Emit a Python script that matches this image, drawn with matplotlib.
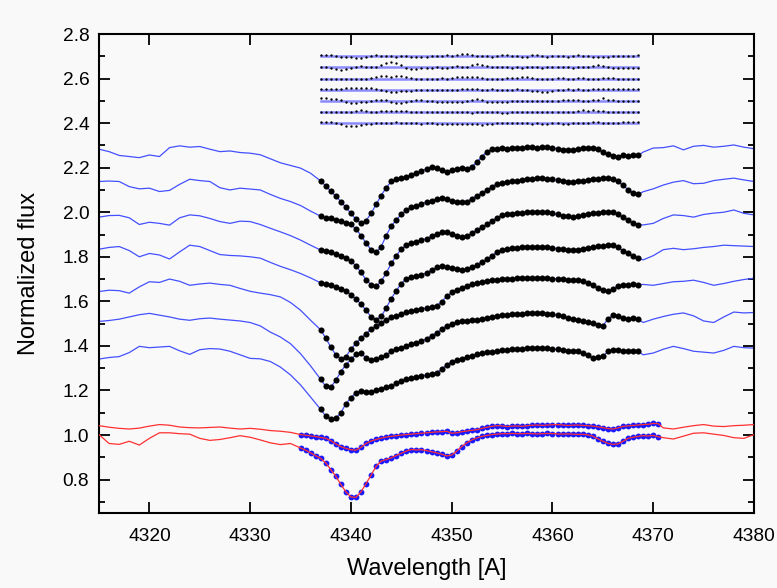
import numpy as np
import matplotlib
matplotlib.use("Agg")
import matplotlib.pyplot as plt
from matplotlib.ticker import MultipleLocator

plt.rcParams['font.family'] = ['Liberation Sans', 'DejaVu Sans']

# ---------------- data ----------------
wl_left = np.arange(4315, 4337, 1.0)        # 22 points, blue wings left
wl_dots = np.arange(4337.0, 4368.51, 0.5)   # 64 points, black dots
wl_right = np.arange(4369, 4381, 1.0)       # 12 points, blue wings right

spec_left = [
    [2.283, 2.272, 2.255, 2.250, 2.245, 2.257, 2.250, 2.290, 2.298, 2.292, 2.295, 2.283, 2.272, 2.275, 2.268, 2.265, 2.258, 2.240, 2.222, 2.210, 2.198, 2.175],
    [2.138, 2.140, 2.138, 2.115, 2.105, 2.108, 2.093, 2.098, 2.125, 2.148, 2.142, 2.138, 2.110, 2.100, 2.108, 2.104, 2.100, 2.080, 2.062, 2.048, 2.030, 2.005],
    [1.978, 1.985, 1.986, 1.975, 1.945, 1.955, 1.950, 1.942, 1.975, 1.988, 1.984, 1.972, 1.958, 1.950, 1.960, 1.958, 1.945, 1.928, 1.912, 1.895, 1.875, 1.852],
    [1.834, 1.842, 1.846, 1.828, 1.800, 1.815, 1.808, 1.790, 1.822, 1.852, 1.846, 1.828, 1.810, 1.806, 1.804, 1.800, 1.794, 1.775, 1.757, 1.742, 1.725, 1.705],
    [1.644, 1.650, 1.648, 1.637, 1.665, 1.688, 1.685, 1.700, 1.690, 1.672, 1.678, 1.682, 1.676, 1.672, 1.658, 1.645, 1.637, 1.630, 1.620, 1.595, 1.560, 1.515],
    [1.510, 1.514, 1.520, 1.530, 1.540, 1.546, 1.538, 1.530, 1.520, 1.515, 1.522, 1.525, 1.520, 1.516, 1.512, 1.505, 1.490, 1.462, 1.440, 1.410, 1.365, 1.310],
    [1.341, 1.348, 1.352, 1.370, 1.398, 1.392, 1.395, 1.398, 1.378, 1.362, 1.383, 1.388, 1.386, 1.376, 1.360, 1.344, 1.342, 1.330, 1.305, 1.270, 1.225, 1.170],
]

spec_dots = [
    [2.140, 2.118, 2.095, 2.072, 2.048, 2.022, 1.995, 1.968, 1.950, 1.962, 1.995, 2.035, 2.075, 2.110, 2.138, 2.150,
     2.152, 2.160, 2.165, 2.175, 2.185, 2.195, 2.205, 2.200, 2.188, 2.182, 2.188, 2.195, 2.198, 2.196, 2.205, 2.225,
     2.250, 2.272, 2.282, 2.285, 2.288, 2.286, 2.289, 2.290, 2.288, 2.291, 2.292, 2.290, 2.292, 2.291, 2.289, 2.285,
     2.280, 2.278, 2.279, 2.283, 2.288, 2.290, 2.288, 2.282, 2.272, 2.262, 2.252, 2.250, 2.255, 2.253, 2.256, 2.255],
    [1.982, 1.975, 1.972, 1.966, 1.960, 1.952, 1.945, 1.925, 1.895, 1.862, 1.832, 1.820, 1.845, 1.895, 1.938, 1.965,
     1.990, 2.010, 2.022, 2.030, 2.038, 2.045, 2.052, 2.058, 2.063, 2.060, 2.052, 2.046, 2.045, 2.048, 2.060, 2.075,
     2.085, 2.100, 2.115, 2.127, 2.132, 2.136, 2.140, 2.142, 2.145, 2.147, 2.150, 2.152, 2.153, 2.150, 2.148, 2.145,
     2.140, 2.137, 2.136, 2.138, 2.142, 2.145, 2.148, 2.150, 2.152, 2.153, 2.148, 2.138, 2.120, 2.102, 2.088, 2.080],
    [1.830, 1.826, 1.820, 1.812, 1.804, 1.795, 1.780, 1.760, 1.730, 1.697, 1.675, 1.667, 1.690, 1.727, 1.770, 1.805,
     1.835, 1.853, 1.862, 1.868, 1.874, 1.882, 1.892, 1.902, 1.912, 1.910, 1.902, 1.895, 1.890, 1.892, 1.905, 1.920,
     1.933, 1.945, 1.960, 1.975, 1.987, 1.990, 1.993, 1.996, 1.998, 2.000, 2.002, 2.003, 2.003, 2.000, 1.995, 1.990,
     1.985, 1.982, 1.980, 1.982, 1.988, 1.993, 1.996, 1.998, 2.000, 2.002, 2.000, 1.990, 1.978, 1.965, 1.952, 1.944],
    [1.683, 1.678, 1.672, 1.665, 1.657, 1.647, 1.630, 1.610, 1.588, 1.560, 1.530, 1.518, 1.532, 1.570, 1.612, 1.648,
     1.680, 1.702, 1.710, 1.714, 1.718, 1.728, 1.740, 1.752, 1.757, 1.755, 1.750, 1.745, 1.742, 1.743, 1.752, 1.765,
     1.776, 1.788, 1.805, 1.822, 1.832, 1.836, 1.838, 1.840, 1.842, 1.844, 1.845, 1.846, 1.845, 1.843, 1.840, 1.837,
     1.834, 1.831, 1.830, 1.832, 1.836, 1.840, 1.844, 1.847, 1.850, 1.853, 1.852, 1.842, 1.828, 1.815, 1.803, 1.795],
    [1.472, 1.435, 1.395, 1.360, 1.342, 1.352, 1.385, 1.412, 1.435, 1.455, 1.475, 1.490, 1.505, 1.518, 1.528, 1.535,
     1.542, 1.550, 1.556, 1.560, 1.565, 1.570, 1.575, 1.580, 1.598, 1.622, 1.640, 1.652, 1.662, 1.670, 1.676, 1.682,
     1.687, 1.692, 1.695, 1.698, 1.700, 1.701, 1.702, 1.704, 1.705, 1.704, 1.705, 1.706, 1.704, 1.703, 1.702, 1.700,
     1.699, 1.698, 1.697, 1.695, 1.690, 1.682, 1.672, 1.660, 1.650, 1.645, 1.655, 1.670, 1.675, 1.672, 1.676, 1.674],
    [1.250, 1.218, 1.215, 1.245, 1.285, 1.315, 1.340, 1.362, 1.368, 1.345, 1.338, 1.342, 1.348, 1.360, 1.375, 1.385,
     1.392, 1.400, 1.408, 1.414, 1.420, 1.432, 1.445, 1.458, 1.475, 1.490, 1.500, 1.506, 1.510, 1.513, 1.516, 1.518,
     1.522, 1.526, 1.530, 1.534, 1.537, 1.539, 1.541, 1.543, 1.545, 1.546, 1.547, 1.548, 1.547, 1.545, 1.542, 1.538,
     1.532, 1.526, 1.520, 1.516, 1.512, 1.507, 1.503, 1.496, 1.490, 1.520, 1.538, 1.532, 1.525, 1.522, 1.524, 1.520],
    [1.115, 1.085, 1.070, 1.075, 1.100, 1.140, 1.168, 1.190, 1.198, 1.195, 1.192, 1.200, 1.208, 1.214, 1.220, 1.232,
     1.242, 1.250, 1.256, 1.261, 1.265, 1.269, 1.274, 1.280, 1.295, 1.315, 1.328, 1.336, 1.343, 1.350, 1.356, 1.362,
     1.367, 1.371, 1.374, 1.377, 1.380, 1.382, 1.384, 1.386, 1.388, 1.389, 1.390, 1.391, 1.391, 1.389, 1.387, 1.384,
     1.381, 1.378, 1.377, 1.375, 1.368, 1.357, 1.347, 1.348, 1.353, 1.375, 1.383, 1.380, 1.378, 1.377, 1.378, 1.376],
]

spec_right = [
    [2.270, 2.288, 2.290, 2.298, 2.280, 2.296, 2.300, 2.292, 2.296, 2.302, 2.292, 2.285],
    [2.092, 2.105, 2.122, 2.135, 2.142, 2.128, 2.130, 2.142, 2.148, 2.153, 2.145, 2.138],
    [1.943, 1.950, 1.972, 1.988, 1.985, 1.978, 1.990, 1.996, 2.000, 2.010, 1.995, 1.988],
    [1.786, 1.805, 1.832, 1.838, 1.832, 1.836, 1.842, 1.846, 1.852, 1.850, 1.848, 1.846],
    [1.676, 1.672, 1.680, 1.688, 1.690, 1.695, 1.685, 1.672, 1.680, 1.690, 1.698, 1.704],
    [1.505, 1.520, 1.532, 1.542, 1.548, 1.535, 1.512, 1.505, 1.530, 1.552, 1.548, 1.550],
    [1.360, 1.368, 1.385, 1.398, 1.388, 1.376, 1.372, 1.368, 1.380, 1.398, 1.392, 1.390],
]

# red (comparison) spectra with blue dots
red_wl_left = np.arange(4315, 4335, 1.0)       # 20 points
red_wl_dots = np.arange(4335.0, 4370.51, 0.5)  # 72 points
red_wl_right = np.arange(4371, 4381, 1.0)      # 10 points

red_left = [
    [1.042, 1.035, 1.030, 1.027, 1.031, 1.040, 1.047, 1.044, 1.036, 1.033, 1.032, 1.034, 1.036, 1.031, 1.027, 1.030, 1.026, 1.020, 1.017, 1.012],
    [1.002, 0.962, 0.958, 0.972, 0.955, 0.985, 1.010, 1.010, 1.006, 1.004, 0.985, 0.976, 0.980, 0.988, 0.997, 0.990, 0.978, 0.965, 0.957, 0.962],
]
red_dots = [
    [1.002, 0.999, 0.996, 0.993, 0.989, 0.985, 0.975, 0.960, 0.948, 0.940, 0.934, 0.932, 0.945, 0.962, 0.973, 0.980,
     0.986, 0.991, 0.994, 0.997, 1.000, 1.002, 1.004, 1.006, 1.008, 1.010, 1.012, 1.014, 1.015, 1.017, 1.008, 1.010,
     1.015, 1.018, 1.021, 1.024, 1.030, 1.035, 1.039, 1.042, 1.041, 1.038, 1.040, 1.041, 1.039, 1.042, 1.044, 1.045,
     1.043, 1.045, 1.046, 1.047, 1.045, 1.043, 1.044, 1.045, 1.043, 1.042, 1.040, 1.037, 1.033, 1.029, 1.027, 1.032,
     1.039, 1.041, 1.043, 1.045, 1.047, 1.048, 1.052, 1.051],
    [0.942, 0.932, 0.920, 0.907, 0.895, 0.875, 0.845, 0.815, 0.778, 0.745, 0.722, 0.720, 0.745, 0.782, 0.820, 0.860,
     0.883, 0.890, 0.898, 0.908, 0.918, 0.928, 0.935, 0.933, 0.934, 0.930, 0.925, 0.920, 0.914, 0.906, 0.910, 0.928,
     0.948, 0.965, 0.978, 0.987, 0.994, 0.998, 1.002, 1.004, 1.006, 1.006, 1.007, 1.006, 1.006, 1.007, 1.006, 1.005,
     1.006, 1.007, 1.006, 1.005, 1.004, 1.005, 1.004, 1.003, 1.003, 1.001, 0.995, 0.983, 0.972, 0.963, 0.958, 0.960,
     0.972, 0.985, 0.990, 0.994, 0.997, 0.996, 0.998, 0.992],
]
red_right = [
    [1.032, 1.027, 1.035, 1.042, 1.047, 1.040, 1.038, 1.042, 1.044, 1.047],
    [0.988, 0.982, 0.995, 1.008, 1.010, 1.004, 0.998, 0.988, 0.985, 1.002],
]

# residuals (x 0.001), 7 rows on the dot grid
resid_levels = [2.70, 2.65, 2.60, 2.55, 2.50, 2.45, 2.40]
resid_milli = [
    [7, 6, 5, 0, -2, -3, -1, -7, -6, -3, 3, 4, 2, 0, 1, -1, 0, 1, -4, -5, -3, -2, 0, 3, 2, 4, 3, 6, 10, 9, 4, 2,
     3, 0, -2, 1, 4, 5, 3, 0, -3, -2, 5, 4, 0, -1, 0, 1, 2, -1, 0, 4, 3, 2, -2, -3, -4, -2, 0, 2, 1, 3, 2, 4],
    [2, 3, -3, -8, -10, -6, -2, 4, 5, 2, 0, 3, 12, 20, 24, 22, 10, -2, -8, -5, -2, -4, -2, 0, -3, -1, 3, 5, 2, 4, 12, 15,
     13, 6, 3, 4, 2, 0, -1, 0, -2, 0, 1, 0, -1, 0, 2, 3, 2, 0, -1, 0, 1, 4, 8, 10, 6, 2, -2, -3, -2, -4, -3, -2],
    [-1, 0, -1, -2, -1, 0, -1, 0, -1, 0, 2, 8, 12, 10, 9, 11, 12, 7, 1, -1, -2, 0, -1, 0, 1, 0, 2, 5, 8, 7, 5, 6,
     3, 0, -1, 0, -1, 1, 2, 4, 8, 6, 2, 0, -1, -2, 0, 3, 2, 0, -1, 1, 2, 0, -2, -1, 1, 3, 2, 0, -1, 0, -2, -1],
    [5, 4, 2, 1, 4, 6, 7, 6, 8, 6, 7, 5, 0, -7, -10, -9, -8, -6, -4, -3, -2, -3, -2, 0, -2, -3, -1, 0, 3, 5, 4, 2,
     0, -1, 1, 0, -2, -1, 0, 1, 0, -3, -6, -8, -12, -10, -5, -1, 0, 1, 0, 2, 0, -1, 2, 3, 4, 3, 2, 3, 4, 3, 2, 3],
    [11, 11, 10, 8, 3, -5, -8, -9, -7, -6, -2, 2, 4, 3, -5, -9, -8, -6, 0, 3, 2, 1, -1, -3, -4, -5, -4, -3, -5, -2, 6, 8,
     4, -3, -5, -4, -6, -3, 0, 1, 0, -1, 0, 1, 0, -1, 0, 1, 3, 2, 3, 2, -1, 1, 4, 6, 12, 5, 2, 0, -1, 0, -2, -1],
    [0, 1, 0, -1, 0, 1, 2, 6, 7, 5, 2, 1, 3, 4, 4, 5, 4, 3, 1, 0, -1, 0, 1, 0, -2, -1, 0, 1, 0, -1, -3, -2,
     0, 1, 0, -2, -4, -3, -1, 0, 1, 0, -1, 0, 1, 2, 1, 0, -1, -2, 0, 5, 7, 6, 7, 5, 3, 1, 0, -1, 0, 1, 0, 1],
    [6, 5, 3, 0, -6, -12, -15, -13, -10, -6, -2, 0, 1, 0, 2, 4, 1, 0, -1, 0, -2, 0, 1, -3, -5, -6, -3, -4, -6, -3, -2, -5,
     -7, -6, -2, 0, -1, 0, 1, 0, -1, 0, -2, -1, -3, -2, 0, -1, -2, -3, -1, 0, 1, 0, 3, 4, 2, 0, -1, 2, 4, 3, 4, 5],
]

x_ticks = [4320, 4330, 4340, 4350, 4360, 4370, 4380]
y_ticks = [0.8, 1.0, 1.2, 1.4, 1.6, 1.8, 2.0, 2.2, 2.4, 2.6, 2.8]

# ---------------- plot ----------------
bg = '#f9f9f9'
fig = plt.figure(figsize=(7.77, 5.88), dpi=100, facecolor=bg)
ax = fig.add_axes([99 / 777, 1 - 513 / 588, (754 - 99) / 777, (513 - 34) / 588])
ax.set_facecolor(bg)

blue_line = '#4450ff'
for i in range(7):
    wl_all = np.concatenate([wl_left, wl_dots, wl_right])
    fl_all = np.concatenate([spec_left[i], spec_dots[i], spec_right[i]])
    ax.plot(wl_all, fl_all, color=blue_line, lw=0.9, zorder=2)
    ax.plot(wl_dots, spec_dots[i], 'o', color='black', ms=4.4, mew=0, zorder=3)

for i in range(2):
    ax.plot(red_wl_dots, red_dots[i], 'o', color='#1a1aff', ms=4.2, mew=0, zorder=3)
    wl_all = np.concatenate([red_wl_left, red_wl_dots, red_wl_right])
    fl_all = np.concatenate([red_left[i], red_dots[i], red_right[i]])
    ax.plot(wl_all, fl_all, color='#ff3030', lw=0.9, zorder=4)

for lev, res in zip(resid_levels, resid_milli):
    ax.plot([wl_dots[0], wl_dots[-1]], [lev, lev], color='#6f6fff', lw=1.8, alpha=0.8, zorder=2)
    ax.plot(wl_dots, lev + np.array(res) / 1000.0, 'o', color='black', ms=1.7, mew=0, zorder=3)

ax.set_xlim(4315, 4380)
ax.set_ylim(0.65, 2.8)
ax.set_xticks(x_ticks)
ax.set_yticks(y_ticks)
ax.yaxis.set_minor_locator(MultipleLocator(0.1))
ax.set_xticklabels([str(t) for t in x_ticks])
ax.set_yticklabels([f"{t:.1f}" for t in y_ticks])
ax.tick_params(axis='both', which='major', direction='in', length=8, width=1.3,
               top=True, right=True, labelsize=13.8, colors='black')
ax.tick_params(axis='x', which='major', pad=11)
ax.tick_params(axis='y', which='major', pad=7)
ax.tick_params(axis='y', which='minor', direction='in', length=4, width=1.3, right=True, left=True)
for s in ax.spines.values():
    s.set_linewidth(1.5)

ax.set_xlabel('Wavelength [A]', fontsize=17, labelpad=9)
ax.set_ylabel('Normalized flux', fontsize=17, labelpad=16)

fig.savefig('out.png', dpi=100, facecolor=bg)
